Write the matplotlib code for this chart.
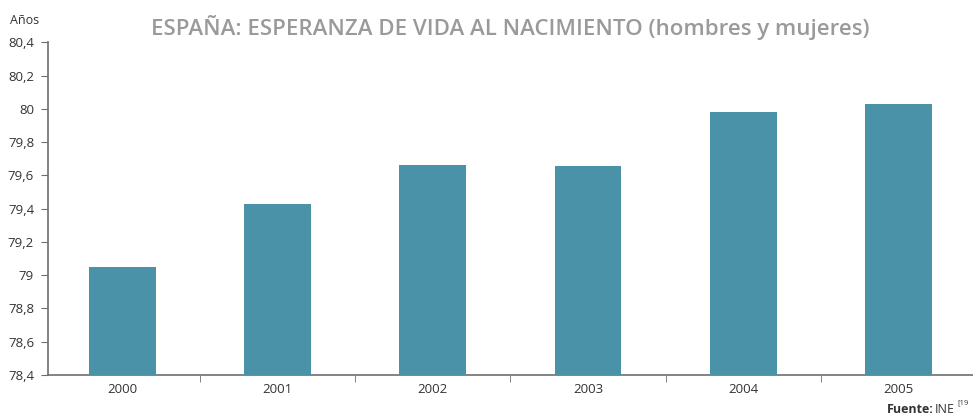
import matplotlib
matplotlib.use("Agg")
import matplotlib.pyplot as plt
from matplotlib.ticker import FuncFormatter, FixedLocator
import numpy as np

# ── Data ──────────────────────────────────────────────────────────────────────
years = ["2000", "2001", "2002", "2003", "2004", "2005"]
esperanza = [79.05, 79.43, 79.66, 79.655, 79.98, 80.03]
yticks = [78.4, 78.6, 78.8, 79.0, 79.2, 79.4, 79.6, 79.8, 80.0, 80.2, 80.4]

# ── Style ─────────────────────────────────────────────────────────────────────
BAR = "#4a92a8"
TEXT = "#333333"
SPINE = "#6e6e6e"
TITLE = "#9a9a9a"

plt.rcParams["font.family"] = ["Open Sans", "DejaVu Sans"]

fig = plt.figure(figsize=(9.73, 4.17), dpi=100)
ax = fig.add_axes([0.0493, 0.1007, 0.957, 0.798])

x = np.arange(len(years))
ax.bar(x, [v - 78.4 for v in esperanza], 0.43, bottom=78.4, color=BAR,
       linewidth=0, zorder=3)

ax.set_xlim(-0.48, len(years) - 0.48)
ax.set_ylim(78.4, 80.4)
ax.set_yticks(yticks)


def fmt(v, pos):
    s = f"{v:.1f}"
    if s.endswith(".0"):
        s = s[:-2]
    return s.replace(".", ",")


ax.yaxis.set_major_formatter(FuncFormatter(fmt))

# category labels centred, tick marks between categories
ax.set_xticks(x)
ax.set_xticklabels(years)
ax.tick_params(axis="x", length=0, pad=6, labelsize=9.5, labelcolor=TEXT)
ax.xaxis.set_minor_locator(FixedLocator(np.arange(0.5, len(years) - 1, 1.0)))
ax.tick_params(axis="x", which="minor", length=5, color=SPINE, direction="out")
ax.tick_params(axis="y", length=5, color=SPINE, labelsize=9.5, labelcolor=TEXT,
               pad=5)

for side in ["top", "right"]:
    ax.spines[side].set_visible(False)
for side in ["left", "bottom"]:
    ax.spines[side].set_color(SPINE)
    ax.spines[side].set_linewidth(1.2)

fig.text(0.524, 0.935, "ESPAÑA: ESPERANZA DE VIDA AL NACIMIENTO (hombres y mujeres)",
         ha="center", va="center", fontsize=16, fontweight="semibold", color=TITLE,
         fontstretch="condensed")
fig.text(0.010, 0.952, "Años", ha="left", va="center", fontsize=9, color=TEXT)

fig.text(0.9595, 0.018, "Fuente:", ha="right", va="center", fontsize=9,
         fontweight="bold", color=TEXT)
fig.text(0.961, 0.018, "INE", ha="left", va="center", fontsize=9, color=TEXT)
fig.text(0.9835, 0.035, "[19", ha="left", va="center", fontsize=5.5, color=TEXT)

fig.savefig("out.png", dpi=100, facecolor="white")
